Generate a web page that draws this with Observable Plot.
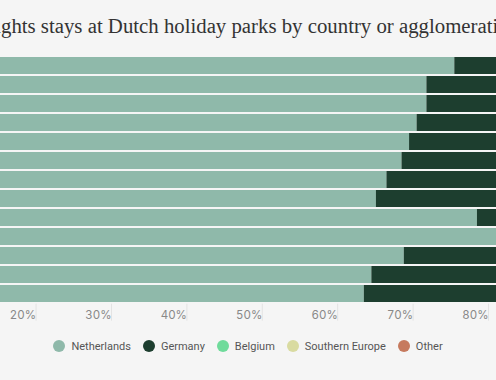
<!DOCTYPE html>
<html><head><meta charset="utf-8">
<script src="https://cdn.jsdelivr.net/npm/d3@7"></script>
<script src="https://cdn.jsdelivr.net/npm/@observablehq/plot@0.6"></script>
<style>
html,body{margin:0;padding:0;background:#f5f5f5;width:496px;height:380px;overflow:hidden;}
#title{height:50px;box-sizing:border-box;white-space:nowrap;font-family:"Liberation Serif",serif;font-size:20.8px;line-height:24px;color:#333;position:relative;overflow:hidden;}
#title span{position:absolute;left:0;top:14px;}
#chart svg{display:block;}
#legend{display:flex;justify-content:center;align-items:center;gap:12px;font-family:Roboto,sans-serif;font-size:11px;color:#555;height:32px;}
.item{display:flex;align-items:center;gap:6px}
.sw{width:12px;height:12px;border-radius:50%}
</style></head><body>
<div id="title"><span id="t"></span></div>
<div id="chart"></div>
<div id="legend"></div>
<script>
const rows = ["Row 1","Row 2","Row 3","Row 4","Row 5","Row 6","Row 7","Row 8","Row 9","Row 10","Row 11","Row 12","Row 13"];
const netherlands = [75.0, 71.3, 71.3, 70.0, 69.0, 68.0, 66.0, 64.6, 78.0, 86.0, 68.3, 64.0, 63.0];
const germany = [18, 22, 21, 22, 23, 24, 25, 27, 12, 8, 24, 28, 29];
const seriesNames = ["Netherlands","Germany","Belgium","Southern Europe","Other"];
const seriesColors = ["#8fb9aa","#1d3e2f","#6fdb9b","#d9dba1","#c67a5e"];
const xTicks = [20,30,40,50,60,70,80];
const titleText = "Share of nights stays at Dutch holiday parks by country or agglomeration";
const hiddenPrefix = "Share of ni";

// title (cropped like the reference)
const t = document.getElementById("t");
t.textContent = titleText;
const cv = document.createElement("canvas").getContext("2d");
cv.font = '20.8px "Liberation Serif"';
t.style.left = (-cv.measureText(hiddenPrefix).width + 1) + "px";

const data = [];
rows.forEach((r,i)=>{
  data.push({row:r, series:"Netherlands", value:netherlands[i]});
  data.push({row:r, series:"Germany", value:germany[i]});
});

const chart = Plot.plot({
  width: 496,
  height: 280,
  marginLeft: 0,
  marginRight: 0,
  marginTop: 4.8,
  marginBottom: 26.3,
  style: {background:"transparent", fontFamily:"Inter, sans-serif", fontSize:"11px"},
  x: {domain:[14.75, 80.53], axis:null, label:null},
  y: {domain: rows, padding:0.1, axis:null, label:null},
  color: {domain: seriesNames, range: seriesColors},
  marks: [
    Plot.barX(data, {x:"value", y:"row", fill:"series", clip:true}),
    Plot.axisX(xTicks, {anchor:"bottom", label:null, tickSize:17, tickPadding:-10, textAnchor:"end", dx:-4,
      tickFormat:d=>d+"%", stroke:"#e3e3e3", color:"#888", fontSize:11.5})
  ]
});
document.getElementById("chart").appendChild(chart);

const lg = document.getElementById("legend");
seriesNames.forEach((n,i)=>{
  const it = document.createElement("div"); it.className="item";
  const sw = document.createElement("div"); sw.className="sw"; sw.style.background=seriesColors[i];
  const tx = document.createElement("span"); tx.textContent=n;
  it.appendChild(sw); it.appendChild(tx); lg.appendChild(it);
});
</script>
</body></html>
